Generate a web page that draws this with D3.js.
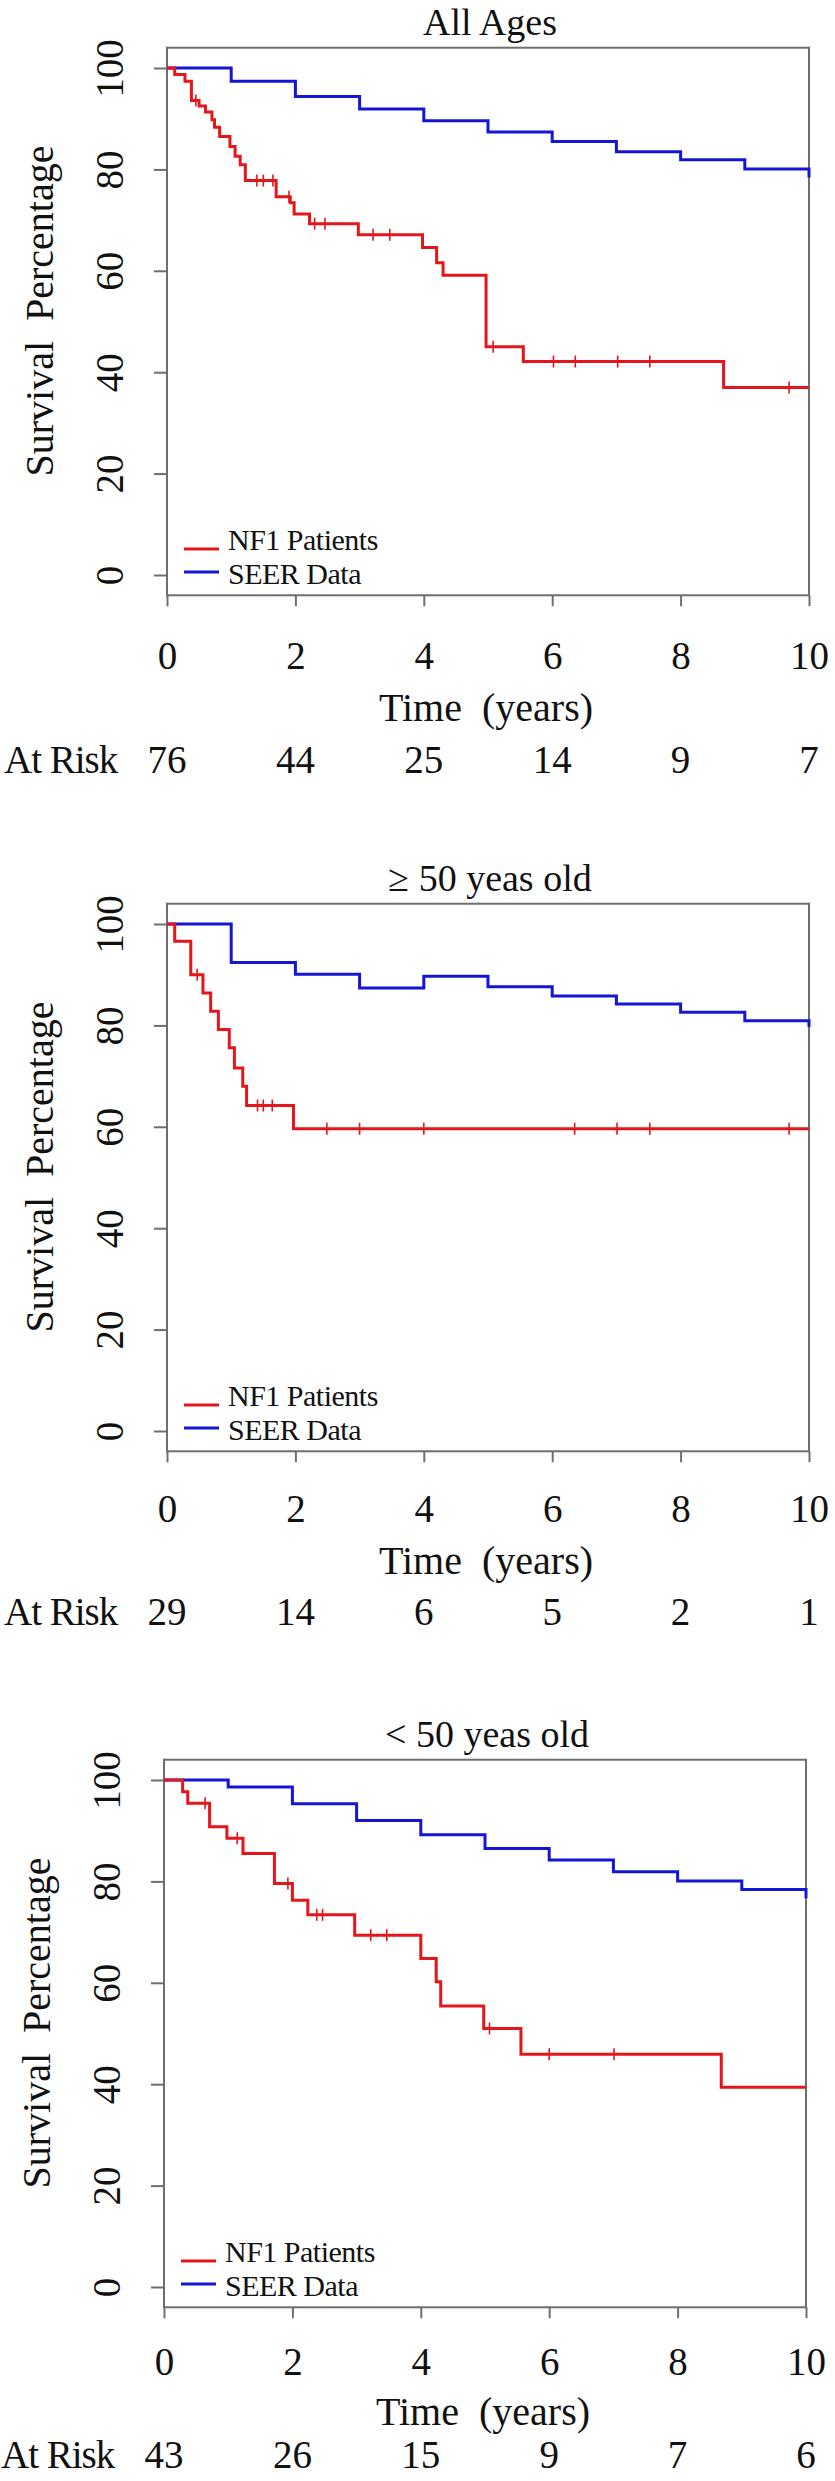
<!DOCTYPE html>
<html>
<head>
<meta charset="utf-8">
<script src="https://cdn.jsdelivr.net/npm/d3@7"></script>
<style>
  html, body { margin: 0; padding: 0; background: #fff; }
  svg { display: block; }
  text { font-family: "Liberation Serif", "Times New Roman", "DejaVu Serif", serif; fill: #111; }
</style>
</head>
<body>
<script>
// ---------- DATA ----------
const panelTitles = ["All Ages", "\u2265 50 yeas old", "< 50 yeas old"];
const xTickValues = [0, 2, 4, 6, 8, 10];
const yTickValues = [0, 20, 40, 60, 80, 100];
const legendLabels = ["NF1 Patients", "SEER Data"];

// Number at risk at years 0,2,4,6,8,10
const atRiskAll   = [76, 44, 25, 14, 9, 7];
const atRiskOld   = [29, 14, 6, 5, 2, 1];
const atRiskYoung = [43, 26, 15, 9, 7, 6];

// SEER expected survival (step at each whole year)
const seerTimes = [1, 2, 3, 4, 5, 6, 7, 8, 9, 10];
const seerAll   = [97.4, 94.4, 91.9, 89.6, 87.4, 85.5, 83.5, 81.9, 80.1, 78.4];
const seerOld   = [92.4, 90.1, 87.4, 89.7, 87.6, 85.8, 84.2, 82.6, 80.9, 79.7];
const seerYoung = [98.6, 95.3, 92.0, 89.2, 86.5, 84.2, 81.9, 80.1, 78.4, 76.7];

// NF1 Kaplan-Meier: event times and survival after each event
const nf1AllTimes = [0.12, 0.28, 0.38, 0.50, 0.60, 0.70, 0.74, 0.82, 0.98, 1.06, 1.14, 1.22, 1.70, 1.92, 1.98, 2.22, 2.98, 3.98, 4.20, 4.30, 4.97, 5.55, 8.67];
const nf1AllSurv  = [98.7, 97.4, 93.6, 92.5, 91.3, 89.8, 88.3, 86.5, 84.5, 82.6, 80.9, 77.8, 74.6, 73.4, 71.2, 69.3, 67.1, 64.6, 61.6, 59.1, 45.0, 42.1, 37.0];
const nf1AllCensor = [0.45, 1.40, 1.50, 1.65, 1.90, 2.30, 2.46, 3.21, 3.47, 5.08, 6.02, 6.36, 7.02, 7.52, 9.69];

const nf1OldTimes = [0.12, 0.37, 0.56, 0.68, 0.80, 0.97, 1.05, 1.18, 1.24, 1.97];
const nf1OldSurv  = [96.6, 90.0, 86.4, 82.8, 79.2, 75.6, 71.6, 68.0, 64.2, 59.6];
const nf1OldCensor = [0.47, 1.41, 1.50, 1.64, 2.49, 3.00, 4.00, 6.35, 7.01, 7.52, 9.69];

const nf1YoungTimes = [0.29, 0.37, 0.71, 0.98, 1.23, 1.72, 2.00, 2.24, 2.97, 4.00, 4.24, 4.31, 4.98, 5.56, 8.68];
const nf1YoungSurv  = [97.7, 95.4, 90.8, 88.5, 85.5, 79.6, 76.3, 73.4, 69.4, 64.8, 60.2, 55.4, 51.0, 45.9, 39.4];
const nf1YoungCensor = [0.64, 1.14, 1.93, 2.38, 2.47, 3.22, 3.47, 5.07, 6.00, 7.01];

const panels = [
  { title: panelTitles[0], atRisk: atRiskAll,   seer: seerAll,   times: nf1AllTimes,   surv: nf1AllSurv,   censor: nf1AllCensor },
  { title: panelTitles[1], atRisk: atRiskOld,   seer: seerOld,   times: nf1OldTimes,   surv: nf1OldSurv,   censor: nf1OldCensor },
  { title: panelTitles[2], atRisk: atRiskYoung, seer: seerYoung, times: nf1YoungTimes, surv: nf1YoungSurv, censor: nf1YoungCensor }
];

// ---------- STYLE / LAYOUT ----------
const W = 835, H = 2481;
const RED = "#e5161b", BLUE = "#1515d6", GRAY = "#6e6e6e";
const SERIF = "Liberation Serif, Times New Roman, DejaVu Serif, serif";
const panelStep = 856;
const riskBaseline = [773, 769, 756];
const timeBaseline = [721, 718, 713];
const tickBaseline = [669, 666, 663];

const svg = d3.select("body").append("svg")
  .attr("width", W).attr("height", H)
  .attr("viewBox", `0 0 ${W} ${H}`)
  .attr("font-family", SERIF);
svg.append("rect").attr("width", W).attr("height", H).attr("fill", "#fff");

function survAt(times, surv, t) {
  let v = 100;
  for (let k = 0; k < times.length; k++) if (times[k] <= t) v = surv[k];
  return v;
}

panels.forEach((p, i) => {
  const dx = i === 2 ? -3 : 0;
  const g = svg.append("g").attr("transform", `translate(${dx},${i * panelStep})`);

  const x = d3.scaleLinear().domain([0, 10]).range([167, 809]);
  const y = d3.scaleLinear().domain([0, 100]).range([575, 68]);

  // Title
  g.append("text")
    .attr("x", (x(0) + x(10)) / 2 + 2).attr("y", 35)
    .attr("text-anchor", "middle")
    .attr("font-size", 38)
    .attr("font-family", SERIF)
    .text(p.title);

  // Plot box
  g.append("rect")
    .attr("x", x(0)).attr("y", y(104))
    .attr("width", x(10) - x(0)).attr("height", y(-4) - y(104))
    .attr("fill", "none").attr("stroke", GRAY).attr("stroke-width", 2);

  // Y axis
  const yAxis = g.append("g").attr("transform", `translate(${x(0)},0)`)
    .call(d3.axisLeft(y).tickValues(yTickValues).tickSize(13).tickPadding(0));
  yAxis.select(".domain").remove();
  yAxis.selectAll(".tick line").attr("stroke", GRAY).attr("stroke-width", 2);
  yAxis.selectAll(".tick text")
    .attr("x", 0).attr("y", -44).attr("dy", 0)
    .attr("transform", "rotate(-90)")
    .attr("text-anchor", "middle")
    .attr("font-size", 39)
    .attr("font-family", SERIF)
    .attr("fill", "#111");

  // X axis
  const xAxis = g.append("g").attr("transform", `translate(0,${y(-4)})`)
    .call(d3.axisBottom(x).tickValues(xTickValues).tickSize(11).tickPadding(0));
  xAxis.select(".domain").remove();
  xAxis.selectAll(".tick line").attr("stroke", GRAY).attr("stroke-width", 2);
  xAxis.selectAll(".tick text")
    .attr("y", tickBaseline[i] - y(-4)).attr("dy", 0)
    .attr("font-size", 39)
    .attr("font-family", SERIF)
    .attr("fill", "#111");

  // Axis titles
  g.append("text")
    .attr("transform", `translate(53,311) rotate(-90)`)
    .attr("text-anchor", "middle")
    .attr("font-size", 40)
    .attr("font-family", SERIF)
    .style("white-space", "pre")
    .text("Survival  Percentage");

  g.append("text")
    .attr("x", 486).attr("y", timeBaseline[i])
    .attr("text-anchor", "middle")
    .attr("font-size", 40)
    .attr("font-family", SERIF)
    .style("white-space", "pre")
    .text("Time  (years)");

  // At risk row
  g.append("text")
    .attr("x", 4).attr("y", riskBaseline[i])
    .attr("font-size", 39)
    .attr("font-family", SERIF)
    .attr("letter-spacing", -1)
    .text("At Risk");
  g.selectAll(".risk").data(p.atRisk).enter().append("text")
    .attr("class", "risk")
    .attr("x", (d, k) => x(xTickValues[k]))
    .attr("y", riskBaseline[i])
    .attr("text-anchor", "middle")
    .attr("font-size", 39)
    .attr("font-family", SERIF)
    .text(d => d);

  // Curves
  const line = d3.line().x(d => x(d[0])).y(d => y(d[1])).curve(d3.curveStepAfter);

  const seerPts = [[0, 100]].concat(seerTimes.map((t, k) => [t, p.seer[k]]));
  g.append("path").datum(seerPts)
    .attr("d", line).attr("fill", "none")
    .attr("stroke", BLUE).attr("stroke-width", 3);

  const nfPts = [[0, 100]].concat(p.times.map((t, k) => [t, p.surv[k]]));
  nfPts.push([10, p.surv[p.surv.length - 1]]);
  g.append("path").datum(nfPts)
    .attr("d", line).attr("fill", "none")
    .attr("stroke", RED).attr("stroke-width", 3);

  // Censor marks
  g.selectAll(".cens").data(p.censor).enter().append("line")
    .attr("class", "cens")
    .attr("x1", d => x(d)).attr("x2", d => x(d))
    .attr("y1", d => y(survAt(p.times, p.surv, d)) - 6)
    .attr("y2", d => y(survAt(p.times, p.surv, d)) + 6)
    .attr("stroke", RED).attr("stroke-width", 1.6);

  // Legend
  const leg = [
    { label: legendLabels[0], color: RED,  ly: 549, ty: 550 },
    { label: legendLabels[1], color: BLUE, ly: 572, ty: 584 }
  ];
  leg.forEach(l => {
    g.append("line")
      .attr("x1", 184).attr("x2", 219)
      .attr("y1", l.ly).attr("y2", l.ly)
      .attr("stroke", l.color).attr("stroke-width", 3);
    g.append("text")
      .attr("x", 228).attr("y", l.ty)
      .attr("font-size", 30)
      .attr("font-family", SERIF)
      .attr("letter-spacing", -0.5)
      .text(l.label);
  });
});
</script>
</body>
</html>
